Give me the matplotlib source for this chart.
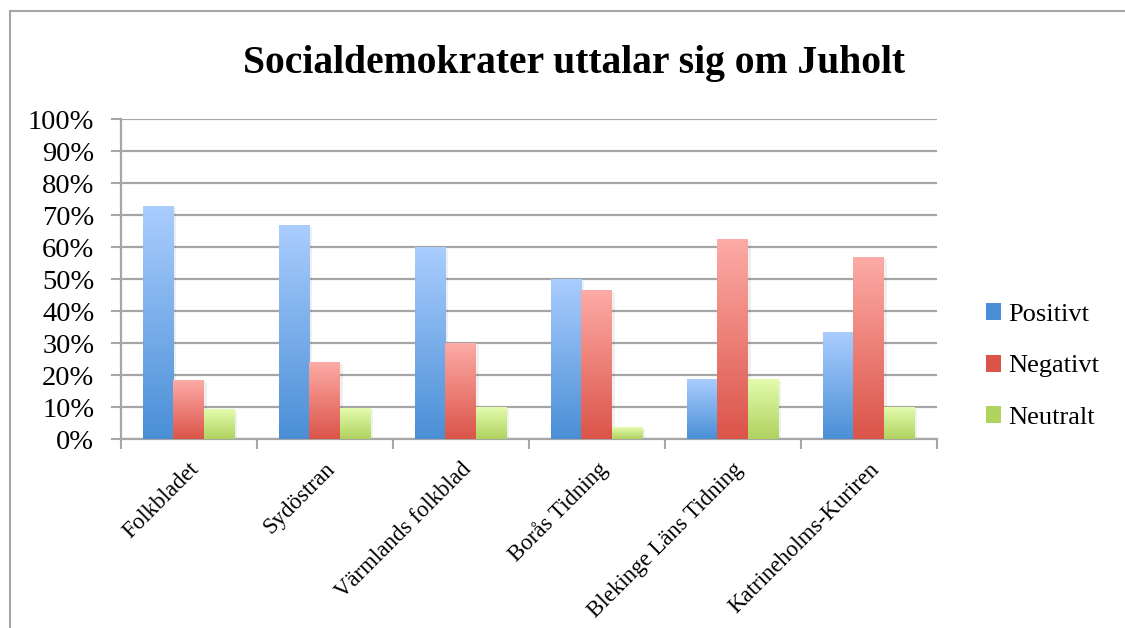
import numpy as np
import matplotlib.pyplot as plt
from matplotlib.colors import LinearSegmentedColormap
from matplotlib.patches import Rectangle

categories = ["Folkbladet", "Sydöstran", "Värmlands folkblad", "Borås Tidning",
              "Blekinge Läns Tidning", "Katrineholms-Kuriren"]
series = ["Positivt", "Negativt", "Neutralt"]
positivt = [72.7, 66.7, 60.0, 50.0, 18.75, 33.3]
negativt = [18.2, 23.8, 30.0, 46.4, 62.5, 56.7]
neutralt = [9.1, 9.5, 10.0, 3.6, 18.75, 10.0]
values = [positivt, negativt, neutralt]

# (bottom, top) colours of the gradient fill
colors = [("#4a8fd6", "#aacdfe"), ("#db5449", "#fdaba6"), ("#b0d25f", "#e3fcad")]

plt.rcParams["font.family"] = ["Liberation Serif", "DejaVu Serif"]

fig = plt.figure(figsize=(11.25, 6.28), dpi=100)
ax = fig.add_axes([0.1073, 0.3005, 0.7253, 0.5095])

grey = "#a6a6a6"
width = 0.225
x = np.arange(len(categories))
grad = np.linspace(0, 1, 256).reshape(-1, 1)

for i, (name, vals) in enumerate(zip(series, values)):
    cmap = LinearSegmentedColormap.from_list(name, colors[i])
    for xi, v in zip(x, vals):
        x0 = xi + (i - 1.5) * width
        # faint shadow
        ax.add_patch(Rectangle((x0 + 0.02, 0), width, v - 0.4, color="black",
                               alpha=0.06, lw=0, zorder=2))
        ax.imshow(grad, extent=[x0, x0 + width, 0, v], origin="lower",
                  cmap=cmap, aspect="auto", zorder=3)

ax.set_xlim(-0.5, len(categories) - 0.5)
ax.set_ylim(0, 100)

ax.set_yticks(range(0, 101, 10))
ax.set_yticklabels([f"{v}%" for v in range(0, 101, 10)], fontsize=20.5)
ax.yaxis.grid(True, color=grey, lw=1.6, zorder=0)
ax.set_axisbelow(True)

ax.set_xticks(x)
ax.set_xticklabels(categories, rotation=45, ha="right", rotation_mode="anchor",
                   fontsize=16.5)
ax.set_xticks(np.arange(-0.5, len(categories)), minor=True)
ax.tick_params(axis="x", which="major", length=0, pad=14)
ax.tick_params(axis="x", which="minor", length=7, width=1.5, color=grey)
ax.tick_params(axis="y", length=7, width=1.5, color=grey, pad=12)

for s in ["top", "right"]:
    ax.spines[s].set_visible(False)
for s in ["left", "bottom"]:
    ax.spines[s].set_color(grey)
    ax.spines[s].set_linewidth(1.6)

handles = [Rectangle((0, 0), 1, 1, facecolor=c[0], edgecolor="none") for c in colors]
fig.legend(handles, series, loc="center left", bbox_to_anchor=(0.876, 0.417),
           frameon=False, fontsize=19, handlelength=0.6, handleheight=0.6,
           handletextpad=0.25, labelspacing=1.1, borderpad=0, borderaxespad=0)

fig.text(0.51, 1 - 63 / 628, "Socialdemokrater uttalar sig om Juholt",
         ha="center", va="center", fontsize=28.5, fontweight="bold")

# chart frame (right and bottom edges fall outside the image)
fig.patches.append(Rectangle((10, -20), 1200, 628 - 11 + 20, transform=None,
                             fill=False, edgecolor=grey, lw=1.5))

fig.savefig("out.png", dpi=100)
